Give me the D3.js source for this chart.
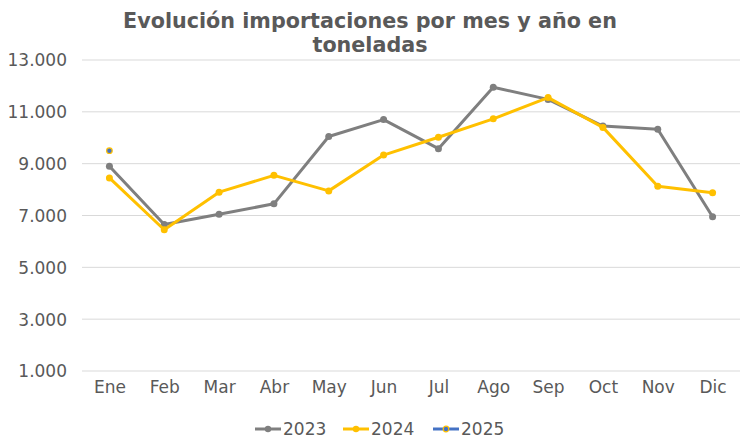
<!DOCTYPE html>
<html><head><meta charset="utf-8">
<script src="https://cdn.jsdelivr.net/npm/d3@7"></script>
<style>body{margin:0;background:#fff}svg{display:block}</style>
</head><body>
<script>
const months = ["Ene","Feb","Mar","Abr","May","Jun","Jul","Ago","Sep","Oct","Nov","Dic"];
const values2023 = [8900,6650,7050,7450,10050,10700,9580,11950,11480,10450,10330,6950];
const values2024 = [8450,6450,7900,8550,7950,9330,10020,10730,11550,10400,8130,7880];
const values2025 = [9500];
const yTicks = [1000,3000,5000,7000,9000,11000,13000];
const seriesNames = ["2023","2024","2025"];

const W=741,H=439;
const svg=d3.select("body").append("svg").attr("width",W).attr("height",H);
const font="'DejaVu Sans', sans-serif";
const x=d3.scalePoint().domain(months).range([82,740]).padding(0.5);
const y=d3.scaleLinear().domain([1000,13000]).range([371,60]);
const loc=d3.formatLocale({decimal:",",thousands:".",grouping:[3],currency:["",""]});

// grid
svg.append("g").selectAll("line").data(yTicks).join("line")
 .attr("x1",82).attr("x2",740).attr("y1",d=>y(d)).attr("y2",d=>y(d))
 .attr("stroke","#d9d9d9").attr("stroke-width",1);

// y labels
const yAxis=d3.axisLeft(y).tickValues(yTicks).tickFormat(d=>loc.format(",")(d)).tickSize(0).tickPadding(0);
const gy=svg.append("g").attr("transform","translate(67,0)").call(yAxis);
gy.select(".domain").remove();
gy.selectAll("text").attr("font-family",font).attr("font-size",17).attr("fill","#595959").attr("dy","0.35em");

// x labels
const xAxis=d3.axisBottom(x).tickSize(0).tickPadding(0);
const gx=svg.append("g").attr("transform","translate(0,381)").call(xAxis);
gx.select(".domain").remove();
gx.selectAll("text").attr("font-family",font).attr("font-size",17).attr("fill","#595959").attr("dy","0.71em");

const series=[
 {name:"2023",vals:values2023,color:"#7f7f7f",fill:"#7f7f7f"},
 {name:"2024",vals:values2024,color:"#ffc000",fill:"#ffc000"},
 {name:"2025",vals:values2025,color:"#4472c4",fill:"#4472c4",stroke:"#ffc000"}
];
const line=d3.line().x((d,i)=>x(months[i])).y(d=>y(d));
series.forEach(s=>{
  svg.append("path").datum(s.vals).attr("d",line).attr("fill","none")
   .attr("stroke",s.color).attr("stroke-width",3).attr("stroke-linejoin","round");
  svg.append("g").selectAll("circle").data(s.vals).join("circle")
   .attr("cx",(d,i)=>x(months[i])).attr("cy",d=>y(d)).attr("r",s.stroke?2.8:3.5)
   .attr("fill",s.fill).attr("stroke",s.stroke||"none").attr("stroke-width",1.2);
});

// title
const t=svg.append("text").attr("text-anchor","middle").attr("font-family",font)
 .attr("font-weight",700).attr("font-size",20.7).attr("fill","#595959");
t.append("tspan").attr("x",370).attr("y",28).text("Evolución importaciones por mes y año en");
t.append("tspan").attr("x",370).attr("y",52).text("toneladas");

// legend
const lx=[255,343,433];
series.forEach((s,i)=>{
  const g=svg.append("g").attr("transform",`translate(${lx[i]},429)`);
  g.append("line").attr("x1",0).attr("x2",26).attr("stroke",s.color).attr("stroke-width",3);
  g.append("circle").attr("cx",13).attr("r",s.stroke?2.8:3.2).attr("fill",s.fill).attr("stroke",s.stroke||"none").attr("stroke-width",1.2);
  g.append("text").attr("x",28).attr("dy","0.35em").attr("font-family",font).attr("font-size",17).attr("fill","#595959").text(seriesNames[i]);
});
</script>
</body></html>
